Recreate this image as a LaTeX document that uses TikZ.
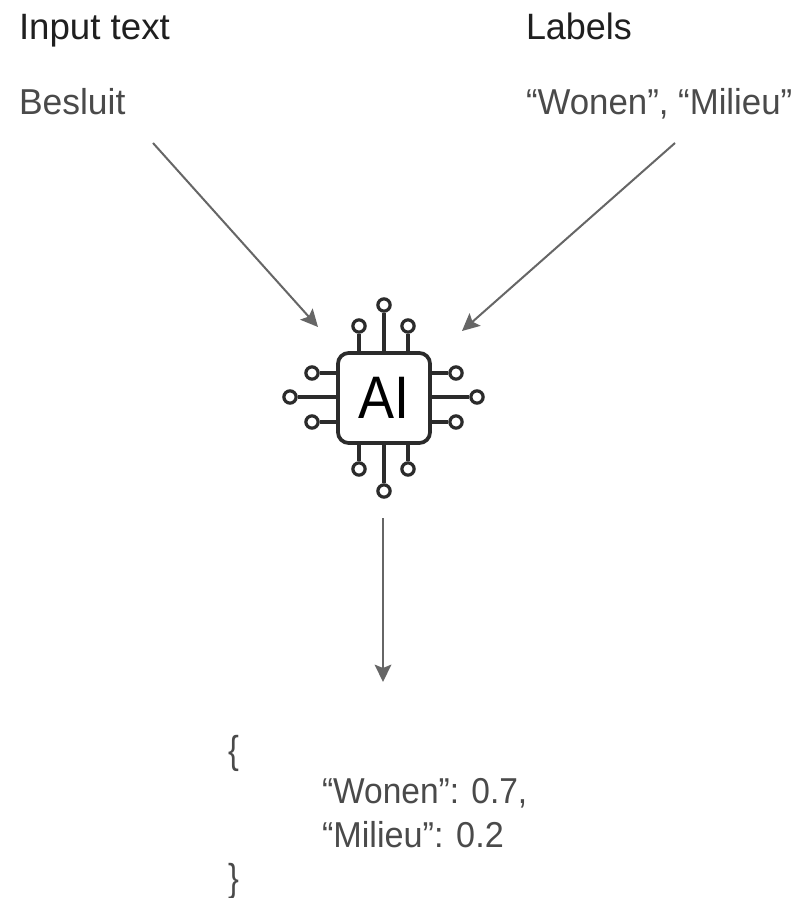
\documentclass[tikz,border=0pt]{standalone}
\usepackage{fontspec}
\setmainfont{Liberation Sans}
\usetikzlibrary{arrows.meta}
\definecolor{headc}{HTML}{1F1F1F}
\definecolor{bodyc}{HTML}{4A4A4A}
\definecolor{arrowc}{HTML}{666666}
\definecolor{chipc}{HTML}{2B2B2B}
\tikzset{
  x=0.75pt,y=-0.75pt,
  head/.style={anchor=base west,inner sep=0pt,outer sep=0pt,text=headc,font=\fontsize{27.5}{27.5}\selectfont},
  body/.style={anchor=base west,inner sep=0pt,outer sep=0pt,text=bodyc,font=\fontsize{27}{27}\selectfont},
  link/.style={draw=arrowc,line width=1.5pt,-{Stealth[length=13pt,width=12.5pt,inset=2.5pt]}},
  chipbox/.style={draw=chipc,line width=2.8pt,rounded corners=8pt,minimum width=69pt,minimum height=67.5pt,inner sep=0pt,fill=white,text=black,font=\fontsize{45}{45}\selectfont},
  pin/.style={draw=chipc,line width=2.8pt},
  pad/.style={circle,draw=chipc,line width=2.4pt,minimum size=9.2pt,inner sep=0pt,fill=white},
}
\begin{document}
\begin{tikzpicture}
\useasboundingbox (0,0) rectangle (794,898);
\fill[white] (0,0) rectangle (794,898);
\node[head] (inputhead) at (19,40) {\scalebox{1.0}[1]{Input text}};
\node[head] (labelhead) at (526,40) {\scalebox{0.98}[1]{Labels}};
\node[body] (besluit) at (19,115) {\scalebox{0.985}[1]{Besluit}};
\node[body] (labeltext) at (526,115) {\scalebox{0.967}[1]{“Wonen”, “Milieu”}};
\node[chipbox] (chip) at (384,398) {\scalebox{0.9}[1]{AI}};
\foreach \n/\x/\y/\ax/\ay in {
  t1/359/326/359/353, t2/384/305/384/353, t3/408/326/408/353,
  b1/359/469/359/443, b2/384/491/384/443, b3/408/469/408/443,
  l1/312/373/338/373, l2/290/397/338/397, l3/312/422/338/422,
  r1/456/373/430/373, r2/477/397/430/397, r3/456/422/430/422}{
  \coordinate (\n a) at (\ax,\ay);
  \node[pad] (\n) at (\x,\y) {};
  \draw[pin] (\n) -- (\n a);
}
\coordinate (a1s) at (153,143);
\coordinate (a1e) at (318,327);
\coordinate (a2s) at (675,143);
\coordinate (a2e) at (462,331);
\coordinate (a3s) at (383,518);
\coordinate (a3e) at (383,682);
\draw[link] (a1s) -- (a1e);
\draw[link] (a2s) -- (a2e);
\draw[link] (a3s) -- (a3e);
\node[body] (open) at (228,763) {\scalebox{0.9}[1.08]{\{}};
\node[body] (wonen) at (322,803) {\scalebox{0.93}[1]{“Wonen”: 0.7,}};
\node[body] (milieu) at (322,847) {\scalebox{0.95}[1]{“Milieu”: 0.2}};
\node[body] (close) at (228,891) {\scalebox{0.9}[1.08]{\}}};
\end{tikzpicture}
\end{document}
